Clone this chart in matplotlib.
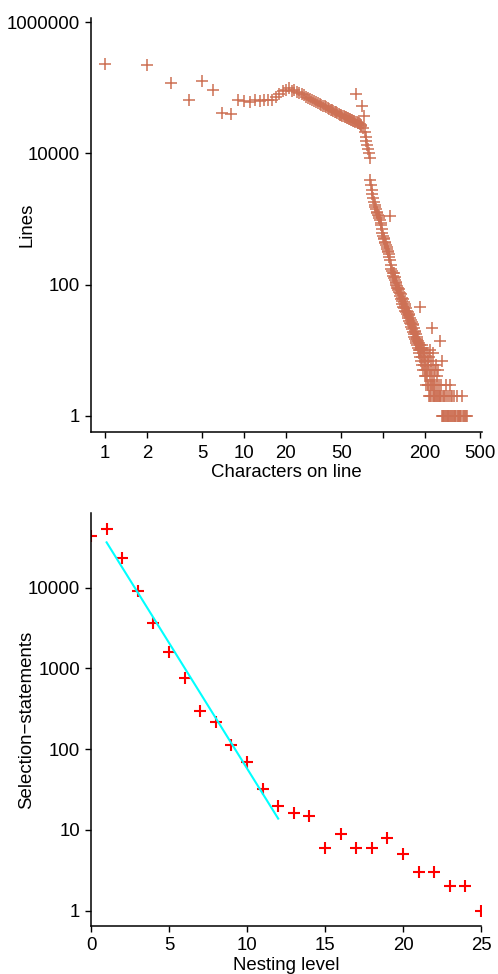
import numpy as np
import matplotlib
matplotlib.use("Agg")
import matplotlib.pyplot as plt
from matplotlib.ticker import FixedLocator, FixedFormatter, NullLocator

plt.rcParams['font.family'] = ['Liberation Sans', 'DejaVu Sans']

# ---------------- data: characters per line ----------------
head_chars = list(range(1, 81))
head_lines = [229000, 221000, 117000, 65000, 128000, 92000, 41700, 39800, 66000, 63000,
              61000, 64000, 62000, 65000, 64000, 66000, 72000, 80000, 88000, 92000,
              100000, 90000, 92000, 86000, 84000, 80000, 76000, 73000, 70000, 67000,
              64000, 62000, 60000, 58000, 56500, 55000, 53500, 52000, 50500, 49000,
              47500, 46500, 45000, 44000, 43000, 42000, 41000, 40000, 39000, 38500,
              37500, 37000, 36000, 35500, 35000, 34000, 33500, 33000, 32500, 32000,
              31500, 31000, 30500, 80000, 30000, 29000, 28500, 28000, 27000, 26000,
              52000, 24000, 37000, 21000, 18000, 15500, 13500, 11800, 10000, 8500]

mid_chars = list(range(81, 211))
mid_lines = [3900, 3300, 2800, 2400, 2100, 1800, 1650, 1500, 1400, 1300,
             1250, 1150, 1100, 1050, 980, 880, 800, 700, 620, 560,
             520, 500, 450, 430, 400, 380, 350, 330, 310, 290,
             260, 1100, 240, 200, 175, 160, 150, 135, 150, 125,
             118, 130, 110, 100, 105, 95, 88, 90, 82, 78,
             85, 68, 74, 60, 72, 57, 62, 50, 60, 46,
             55, 44, 50, 40, 48, 38, 44, 36, 40, 33,
             38, 31, 36, 28, 34, 26, 31, 25, 29, 23,
             27, 21, 25, 19, 24, 18, 22, 16, 20, 15,
             19, 14, 18, 13, 16, 12, 15, 11, 14, 10,
             13, 9, 12, 45, 10, 8, 11, 7, 10, 12,
             8, 6, 9, 11, 5, 8, 6, 10, 4, 7,
             5, 8, 4, 6, 3, 9, 5, 4, 7, 3]

tail_chars = [211, 212, 213, 214, 215, 216, 217, 218, 219, 220, 221, 222, 223, 224, 225,
              226, 227, 228, 229, 230, 231, 232, 233, 234, 235, 237, 238, 240, 241, 243,
              244, 246, 248, 250, 252, 254, 255, 257, 259, 261, 263, 265,
              266, 268, 270, 272, 274, 276, 279, 281, 283, 285, 287, 290, 292, 295,
              297, 300, 303, 305, 308, 310, 313, 316, 319, 322, 325, 328, 332, 336,
              340, 344, 348, 352, 356, 360, 365, 370, 375, 381, 388, 395, 400]
tail_lines = [6, 3, 8, 2, 5, 4, 10, 3, 2, 5, 3, 7, 2, 4, 22,
              3, 2, 6, 3, 9, 2, 4, 3, 2, 5, 2, 3, 6, 2, 4,
              2, 3, 2, 5, 2, 3, 2, 14, 2, 3, 2, 7,
              1, 2, 1, 1, 2, 1, 1, 2, 1, 3, 1, 2, 1, 1,
              2, 1, 3, 1, 2, 1, 1, 2, 1, 1, 2, 1, 1, 1,
              2, 1, 1, 1, 1, 1, 1, 2, 1, 1, 1, 1, 1]

chars = head_chars + mid_chars + tail_chars
lines = head_lines + mid_lines + tail_lines

top_xticks = [1, 2, 5, 10, 20, 50, 100, 200, 500]
top_xticklabels = ['1', '2', '5', '10', '20', '50', '', '200', '500']
top_yticks = [1, 100, 10000, 1000000]
top_yticklabels = ['1', '100', '10000', '1000000']

# ---------------- data: nesting level ----------------
nesting = list(range(0, 26))
selections = [43800, 53400, 23500, 9180, 3590, 1580, 760, 295, 215, 112, 69, 32, 20,
              16, 15, 6, 9, 6, 6, 8, 5, 3, 3, 2, 2, 1]
fit_levels = list(range(1, 13))

bot_xticks = [0, 5, 10, 15, 20, 25]
bot_yticks = [1, 10, 100, 1000, 10000]
bot_yticklabels = ['1', '10', '100', '1000', '10000']

# ---------------- figure ----------------
W, H = 498, 974
fig = plt.figure(figsize=(W / 100, H / 100), dpi=100)

def px_axes(l, t, r, b):
    return fig.add_axes([l / W, 1 - b / H, (r - l) / W, (b - t) / H])

FS = 13.4
terra = '#CD7054'

def style(ax):
    for s in ['top', 'right']:
        ax.spines[s].set_visible(False)
    for s in ['left', 'bottom']:
        ax.spines[s].set_linewidth(1.1)
    ax.tick_params(axis='both', which='major', length=4, width=1.0,
                   labelsize=FS, pad=4)
    ax.xaxis.set_minor_locator(NullLocator())
    ax.yaxis.set_minor_locator(NullLocator())

# top chart
ax1 = px_axes(91, 18, 482, 432)
ax1.set_xscale('log')
ax1.set_yscale('log')
ax1.plot(chars, lines, linestyle='none', marker='+', markersize=8,
         markeredgewidth=1.1, color=terra)
ax1.set_xlim(10 ** -0.1007, 10 ** 2.712)
ax1.set_ylim(10 ** -0.2437, 10 ** 6.061)
style(ax1)
ax1.xaxis.set_major_locator(FixedLocator(top_xticks))
ax1.xaxis.set_major_formatter(FixedFormatter(top_xticklabels))
ax1.yaxis.set_major_locator(FixedLocator(top_yticks))
ax1.yaxis.set_major_formatter(FixedFormatter(top_yticklabels))
ax1.tick_params(axis='x', pad=5)
fig.text(286.5 / W, 1 - 476.5 / H, 'Characters on line', ha='center',
         va='baseline', fontsize=FS)
fig.text(27 / W, 1 - 225 / H, 'Lines', ha='center', va='center',
         rotation=90, fontsize=FS)

# bottom chart
ax2 = px_axes(91, 513, 481, 926)
ax2.set_yscale('log')
ax2.plot(nesting, selections, linestyle='none', marker='+', markersize=8.2,
         markeredgewidth=1.5, color='#FF0000')
coef = np.polyfit(fit_levels, np.log10(selections[1:13]), 1)
fx = np.array([fit_levels[0], fit_levels[-1]])
ax2.plot(fx, 10 ** np.polyval(coef, fx), color='#00FFFF', lw=1.5)
ax2.set_xlim(0, 25)
ax2.set_ylim(10 ** -0.189, 10 ** 4.922)
style(ax2)
ax2.xaxis.set_major_locator(FixedLocator(bot_xticks))
ax2.yaxis.set_major_locator(FixedLocator(bot_yticks))
ax2.yaxis.set_major_formatter(FixedFormatter(bot_yticklabels))
fig.text(286 / W, 1 - 970 / H, 'Nesting level', ha='center', va='baseline',
         fontsize=FS)
fig.text(27 / W, 1 - 719.5 / H, 'Selection\u2212statements', ha='center',
         va='center', rotation=90, fontsize=FS)

fig.savefig('out.png', dpi=100)
